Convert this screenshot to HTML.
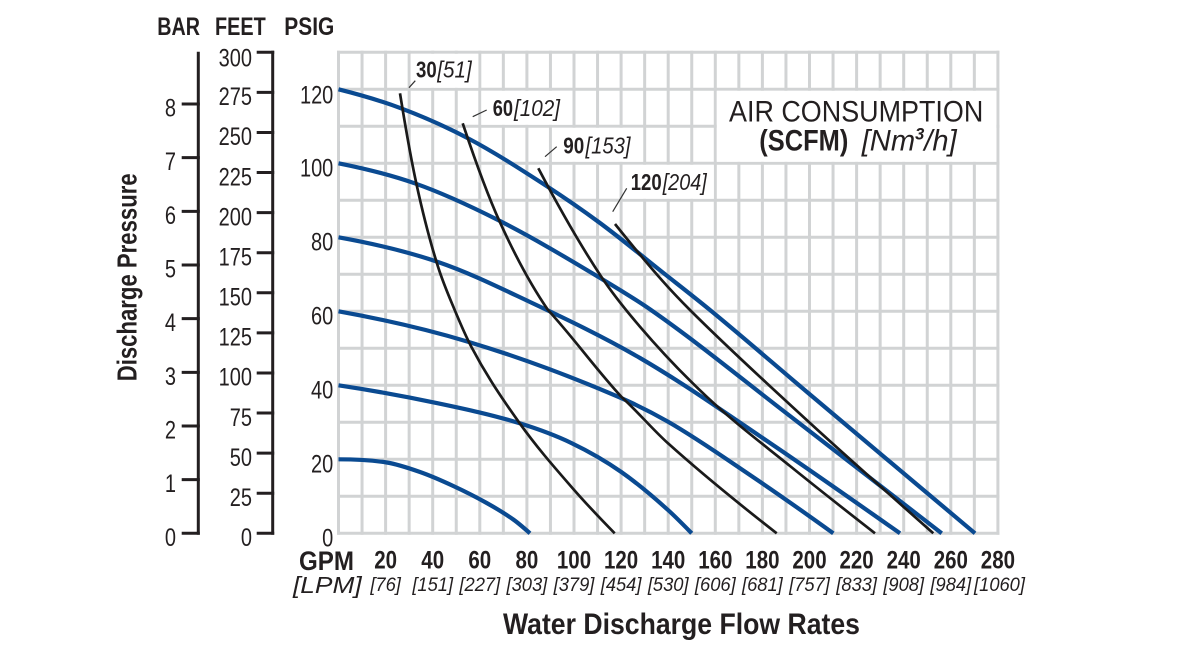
<!DOCTYPE html>
<html>
<head>
<meta charset="utf-8">
<style>
  html,body{margin:0;padding:0;background:#fff;}
  svg{display:block;}
  text{font-family:"Liberation Sans", Arial, sans-serif;fill:#231f20;}
</style>
</head>
<body>
<svg width="1200" height="660" viewBox="0 0 1200 660" xmlns="http://www.w3.org/2000/svg">
<rect x="0" y="0" width="1200" height="660" fill="#fff"/>

<!-- GRID -->
<g stroke="#d1d3d4" stroke-width="3" stroke-linecap="square" fill="none">
  <path d="M338.5 52.3V533.3M362.05 52.3V533.3M385.6 52.3V533.3M409.15 52.3V533.3M432.7 52.3V533.3M456.25 52.3V533.3M479.8 52.3V533.3M503.35 52.3V533.3M526.9 52.3V533.3M550.45 52.3V533.3M574 52.3V533.3M597.55 52.3V533.3M621.1 52.3V533.3M644.65 52.3V533.3M668.2 52.3V533.3M691.75 52.3V533.3M715.3 52.3V533.3M738.85 52.3V533.3M762.4 52.3V533.3M785.95 52.3V533.3M809.5 52.3V533.3M833.05 52.3V533.3M856.6 52.3V533.3M880.15 52.3V533.3M903.7 52.3V533.3M927.25 52.3V533.3M950.8 52.3V533.3M974.35 52.3V533.3M997.9 52.3V533.3"/>
  <path d="M338.5 533.3H997.9M338.5 496.3H997.9M338.5 459.3H997.9M338.5 422.3H997.9M338.5 385.3H997.9M338.5 348.3H997.9M338.5 311.3H997.9M338.5 274.3H997.9M338.5 237.3H997.9M338.5 200.3H997.9M338.5 163.3H997.9M338.5 126.3H997.9M338.5 89.3H997.9M338.5 52.3H997.9"/>
</g>

<!-- white label boxes -->
<g fill="#fff">
  <rect x="410.7" y="53.8" width="67.6" height="34"/>
  <rect x="481.3" y="90.8" width="91.2" height="34"/>
  <rect x="551.95" y="127.8" width="91.2" height="34"/>
  <rect x="622.6" y="164.8" width="91.2" height="34"/>
  <rect x="716.8" y="90.8" width="279.6" height="71"/>
</g>

<!-- legend text -->
<text x="729" y="121.7" font-size="30" textLength="254.3" lengthAdjust="spacingAndGlyphs">AIR CONSUMPTION</text>
<text x="759.3" y="150.7" font-size="30" font-weight="bold" textLength="89" lengthAdjust="spacingAndGlyphs">(SCFM)</text>
<text x="861.7" y="150.7" font-size="30" font-style="italic" textLength="95" lengthAdjust="spacingAndGlyphs">[Nm<tspan font-size="17" font-weight="bold" dy="-11">3</tspan><tspan dy="11">/h]</tspan></text>

<!-- point labels -->
<g font-size="23">
  <text x="416" y="77.3" font-weight="bold" textLength="20.7" lengthAdjust="spacingAndGlyphs">30</text>
  <text x="437.3" y="77.3" font-style="italic" textLength="34.4" lengthAdjust="spacingAndGlyphs">[51]</text>
  <text x="492.7" y="116" font-weight="bold" textLength="20.3" lengthAdjust="spacingAndGlyphs">60</text>
  <text x="514" y="116" font-style="italic" textLength="46" lengthAdjust="spacingAndGlyphs">[102]</text>
  <text x="563.3" y="153.3" font-weight="bold" textLength="21" lengthAdjust="spacingAndGlyphs">90</text>
  <text x="585.5" y="153.3" font-style="italic" textLength="45" lengthAdjust="spacingAndGlyphs">[153]</text>
  <text x="630.7" y="190" font-weight="bold" textLength="31" lengthAdjust="spacingAndGlyphs">120</text>
  <text x="662.7" y="190" font-style="italic" textLength="44" lengthAdjust="spacingAndGlyphs">[204]</text>
</g>
<g stroke="#333" stroke-width="1.2">
  <line x1="409" y1="87.7" x2="415.3" y2="80.7"/>
  <line x1="472.7" y1="116.7" x2="486.7" y2="110"/>
  <line x1="545" y1="156.7" x2="556.7" y2="146.7"/>
  <line x1="612.7" y1="211.7" x2="626.7" y2="188.3"/>
</g>

<!-- BLUE CURVES -->
<g fill="none" stroke="#0a4a91" stroke-width="4.2" stroke-linejoin="round">
  <path d="M338.5 89.3 C359.33 94.51 380.17 100.47 401 108.3 C423.33 116.7 445.67 126.53 468 138.3 C493.67 151.83 519.33 168.37 545 185 C563.33 196.88 581.67 209.44 600 223 C622 239.28 644 257.62 666 275 C680.67 286.59 695.33 297.97 710 310 C742.33 336.51 774.67 364.74 807 392 C863 439.21 919 486.2 975 533.3"/>
  <path d="M338.5 163.3 C363.9 168.38 389.3 174.41 414.7 183.3 C442.47 193.02 470.23 206 498 220 C531.33 236.8 564.67 256.7 598 276.7 C615.67 287.3 633.33 297.72 651 310 C697.33 342.2 743.67 380.42 790 416 C840.57 454.84 891.13 494.11 941.7 533.3"/>
  <path d="M338.5 237.3 C371.67 243.27 404.83 250.72 438 262 C468.67 272.43 499.33 287.59 530 302 C566.67 319.23 603.33 336.73 640 358 C683.33 383.13 726.67 413.75 770 443 C813.33 472.25 856.67 502.97 900 533.3"/>
  <path d="M338.5 311.3 C381.67 319.07 424.83 328.75 468 341.7 C518 356.7 568 375.2 618 396.7 C634.67 403.87 651.33 412.12 668 421.7 C695.33 437.41 722.67 456.55 750 475 C777.77 493.74 805.53 513.31 833.3 533.3"/>
  <path d="M338.5 385.3 C371.67 390.28 404.83 396.33 438 403.3 C465.23 409.02 492.47 414.86 519.7 423.3 C536.9 428.63 554.1 434.74 571.3 443 C587.97 451 604.63 460.33 621.3 472 C636.87 482.9 652.43 495.99 668 510 C675.9 517.11 683.8 525.24 691.7 533.3"/>
  <path d="M338.5 459.3 C354.57 459.3 370.63 459.93 386.7 462.5 C397.8 464.28 408.9 468.11 420 472 C431.1 475.89 442.2 480.84 453.3 486 C464.43 491.18 475.57 496.77 486.7 503 C495.57 507.97 504.43 513.2 513.3 519.5 C518.87 523.45 524.43 528.4 530 533.3"/>
</g>

<!-- BLACK CURVES -->
<g fill="none" stroke="#1a1a1a" stroke-width="2.7" stroke-linejoin="round">
  <path d="M400 93.3 C405.43 126.99 410.87 158.31 416.3 183.3 C423.53 216.57 430.77 243.91 438 266.7 C443.57 284.23 449.13 296.64 454.7 310 C460.23 323.28 465.77 336.19 471.3 346.7 C487.43 377.35 503.57 400.71 519.7 423.3 C536.9 447.38 554.1 466.92 571.3 486.7 C585.77 503.34 600.23 518.54 614.7 533.3"/>
  <path d="M462.7 123.3 C475.03 160.3 487.37 194.57 499.7 221.7 C515.8 257.12 531.9 286.65 548 310 C572.43 336.39 596.87 370.31 621.3 396.7 C636.87 410.71 652.43 429.29 668 443.3 C704.23 475.91 740.47 505.04 776.7 533.3"/>
  <path d="M538.3 168.3 C559.3 208.2 580.3 245.2 601.3 276.7 C614.2 296.05 627.1 311.61 640 326.7 C662.23 352.71 684.47 375.8 706.7 396.7 C734.47 422.8 762.23 443.51 790 466 C818.33 488.95 846.67 511.2 875 533.3"/>
  <path d="M615 224 C630.57 243.46 646.13 262.41 661.7 280 C671.13 290.66 680.57 300.57 690 310 C728.9 348.9 767.8 384.21 806.7 420 C848.9 458.82 891.1 495.74 933.3 533.3"/>
</g>

<!-- LEFT AXES -->
<g stroke="#231f20" stroke-width="3" fill="none">
  <path d="M198.3 51.7V534.8"/>
  <path d="M181.7 533.3H199.8M181.7 479.64H199.8M181.7 425.98H199.8M181.7 372.32H199.8M181.7 318.66H199.8M181.7 265H199.8M181.7 211.34H199.8M181.7 157.68H199.8M181.7 104.02H199.8"/>
  <path d="M272.7 50.8V534.8"/>
  <path d="M256.7 533.3H274.2M256.7 493.22H274.2M256.7 453.13H274.2M256.7 413.05H274.2M256.7 372.97H274.2M256.7 332.88H274.2M256.7 292.8H274.2M256.7 252.72H274.2M256.7 212.63H274.2M256.7 172.55H274.2M256.7 132.47H274.2M256.7 92.38H274.2M256.7 52.3H274.2"/>
</g>

<!-- headers -->
<g font-size="25" font-weight="bold">
  <text x="157.3" y="35" textLength="42.7" lengthAdjust="spacingAndGlyphs">BAR</text>
  <text x="215" y="35" textLength="50.7" lengthAdjust="spacingAndGlyphs">FEET</text>
  <text x="284.3" y="35" textLength="50" lengthAdjust="spacingAndGlyphs">PSIG</text>
</g>

<!-- BAR labels -->
<g font-size="25" text-anchor="end">
  <text transform="translate(176,545.8) scale(0.8,1)">0</text>
  <text transform="translate(176,492.1) scale(0.8,1)">1</text>
  <text transform="translate(176,438.5) scale(0.8,1)">2</text>
  <text transform="translate(176,384.8) scale(0.8,1)">3</text>
  <text transform="translate(176,331.2) scale(0.8,1)">4</text>
  <text transform="translate(176,277.5) scale(0.8,1)">5</text>
  <text transform="translate(176,223.8) scale(0.8,1)">6</text>
  <text transform="translate(176,170.2) scale(0.8,1)">7</text>
  <text transform="translate(176,116.5) scale(0.8,1)">8</text>
</g>
<!-- FEET labels -->
<g font-size="25" text-anchor="end">
  <text transform="translate(252,546) scale(0.8,1)">0</text>
  <text transform="translate(252,505.9) scale(0.8,1)">25</text>
  <text transform="translate(252,465.8) scale(0.8,1)">50</text>
  <text transform="translate(252,425.8) scale(0.8,1)">75</text>
  <text transform="translate(252,385.7) scale(0.8,1)">100</text>
  <text transform="translate(252,345.6) scale(0.8,1)">125</text>
  <text transform="translate(252,305.5) scale(0.8,1)">150</text>
  <text transform="translate(252,265.4) scale(0.8,1)">175</text>
  <text transform="translate(252,225.3) scale(0.8,1)">200</text>
  <text transform="translate(252,185.3) scale(0.8,1)">225</text>
  <text transform="translate(252,145.2) scale(0.8,1)">250</text>
  <text transform="translate(252,105.1) scale(0.8,1)">275</text>
  <text transform="translate(252,66.4) scale(0.8,1)">300</text>
</g>
<!-- PSIG labels -->
<g font-size="25" text-anchor="end">
  <text transform="translate(333.3,546.5) scale(0.8,1)">0</text>
  <text transform="translate(333.3,472.5) scale(0.8,1)">20</text>
  <text transform="translate(333.3,398.5) scale(0.8,1)">40</text>
  <text transform="translate(333.3,324.5) scale(0.8,1)">60</text>
  <text transform="translate(333.3,250.5) scale(0.8,1)">80</text>
  <text transform="translate(333.3,176.5) scale(0.8,1)">100</text>
  <text transform="translate(333.3,103.3) scale(0.8,1)">120</text>
</g>

<!-- Y title -->
<text transform="translate(136.7,277.3) rotate(-90)" text-anchor="middle" font-size="28" font-weight="bold" textLength="208" lengthAdjust="spacingAndGlyphs">Discharge Pressure</text>

<!-- X labels GPM -->
<text x="299" y="570" font-size="27" font-weight="bold" textLength="55" lengthAdjust="spacingAndGlyphs">GPM</text>
<g font-size="25" font-weight="bold" text-anchor="middle">
  <text transform="translate(385.6,568.5) scale(0.82,1)">20</text>
  <text transform="translate(432.7,568.5) scale(0.82,1)">40</text>
  <text transform="translate(479.8,568.5) scale(0.82,1)">60</text>
  <text transform="translate(526.9,568.5) scale(0.82,1)">80</text>
  <text transform="translate(574,568.5) scale(0.82,1)">100</text>
  <text transform="translate(621.1,568.5) scale(0.82,1)">120</text>
  <text transform="translate(668.2,568.5) scale(0.82,1)">140</text>
  <text transform="translate(715.3,568.5) scale(0.82,1)">160</text>
  <text transform="translate(762.4,568.5) scale(0.82,1)">180</text>
  <text transform="translate(809.5,568.5) scale(0.82,1)">200</text>
  <text transform="translate(856.6,568.5) scale(0.82,1)">220</text>
  <text transform="translate(903.7,568.5) scale(0.82,1)">240</text>
  <text transform="translate(950.8,568.5) scale(0.82,1)">260</text>
  <text transform="translate(997.9,568.5) scale(0.82,1)">280</text>
</g>

<!-- LPM -->
<text x="293" y="593.2" font-size="23" font-style="italic" textLength="68.7" lengthAdjust="spacingAndGlyphs">[LPM]</text>
<g font-size="19.5" font-style="italic" text-anchor="middle">
  <text transform="translate(385.6,591) scale(0.94,1)">[76]</text>
  <text transform="translate(432.7,591) scale(0.94,1)">[151]</text>
  <text transform="translate(479.8,591) scale(0.94,1)">[227]</text>
  <text transform="translate(526.9,591) scale(0.94,1)">[303]</text>
  <text transform="translate(574,591) scale(0.94,1)">[379]</text>
  <text transform="translate(621.1,591) scale(0.94,1)">[454]</text>
  <text transform="translate(668.2,591) scale(0.94,1)">[530]</text>
  <text transform="translate(715.3,591) scale(0.94,1)">[606]</text>
  <text transform="translate(762.4,591) scale(0.94,1)">[681]</text>
  <text transform="translate(809.5,591) scale(0.94,1)">[757]</text>
  <text transform="translate(856.6,591) scale(0.94,1)">[833]</text>
  <text transform="translate(903.7,591) scale(0.94,1)">[908]</text>
  <text transform="translate(950.8,591) scale(0.94,1)">[984]</text>
  <text transform="translate(999.5,591) scale(0.94,1)">[1060]</text>
</g>

<!-- X title -->
<text x="503" y="634" font-size="30" font-weight="bold" textLength="357" lengthAdjust="spacingAndGlyphs">Water Discharge Flow Rates</text>
</svg>
</body>
</html>
